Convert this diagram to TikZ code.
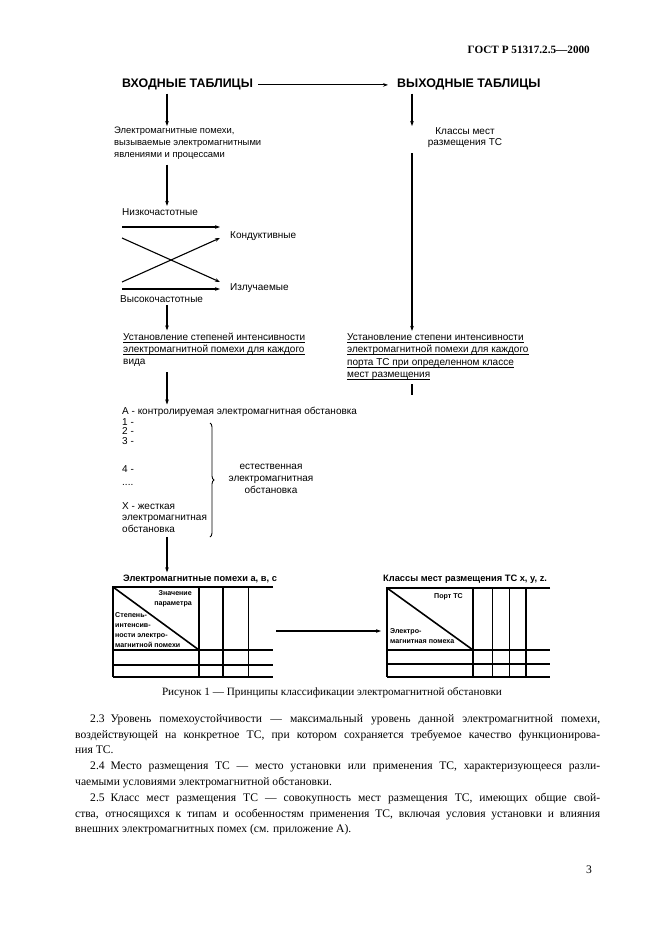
\documentclass[tikz,border=0pt]{standalone}
\usepackage{fontspec}
\setmainfont{Liberation Serif}
\setsansfont{Liberation Sans}
\usetikzlibrary{arrows.meta, decorations.pathreplacing, calc}
\tikzset{
  flow/.style={-{Stealth[length=5pt,width=3.6pt]}, line width=1.1pt},
  lbl/.style={font=\sffamily\fontsize{10}{11.8}\selectfont, inner sep=0pt, anchor=base west},
  hdr/.style={font=\sffamily\bfseries\fontsize{12.4}{14}\selectfont, inner sep=0pt, anchor=base west},
  ttl/.style={font=\sffamily\bfseries\fontsize{9.3}{10}\selectfont, inner sep=0pt, anchor=base west},
  cell/.style={font=\sffamily\bfseries\fontsize{7.1}{10.2}\selectfont, inner sep=0pt},
  uline/.style={line width=0.9pt},
  tbl/.style={line width=1.6pt},
  tblthin/.style={line width=0.9pt},
  body/.style={font=\fontsize{11.6}{13}\selectfont, inner sep=0pt, anchor=base west}
}
\begin{document}
\begin{tikzpicture}[x=1pt, y=-1pt]
\fill[white] (0,0) rectangle (661,936);
\useasboundingbox (0,0) rectangle (661,936);
\node[font=\bfseries\fontsize{11.2}{13}\selectfont, inner sep=0pt, anchor=base east] (gost) at (590,54) {ГОСТ Р 51317.2.5—2000};
% column axes
\coordinate (lx) at (167,0);
\coordinate (rx) at (412,0);
% headings
\node[hdr] (inhdr) at (122,88) {ВХОДНЫЕ ТАБЛИЦЫ};
\node[hdr] (outhdr) at (397,88) {ВЫХОДНЫЕ ТАБЛИЦЫ};
\draw[flow] (inhdr.east) ++(5,0) -- ([xshift=-9pt]outhdr.west);
% left column
\node[lbl, font=\sffamily\fontsize{9.4}{11.8}\selectfont, anchor=north west, align=left] (emi) at (114,127) {Электромагнитные помехи,\\ вызываемые электромагнитными\\ явлениями и процессами};
\draw[flow, shorten <=3pt, shorten >=1pt] (inhdr.south -| lx) -- (emi.north -| lx);
\node[lbl] (low) at (122,215) {Низкочастотные};
\draw[flow, shorten <=5pt, shorten >=2pt] (emi.south -| lx) -- (low.north -| lx);
\node[lbl, anchor=west] (cond) at (230,236) {Кондуктивные};
\node[lbl, anchor=west] (rad) at (230,288) {Излучаемые};
\node[lbl] (high) at (120,302) {Высокочастотные};
% crossing of the two kinds
\coordinate (la) at (122,227); \coordinate (lb) at (220,227);
\coordinate (xa) at (122,238); \coordinate (xb) at (220,282);
\coordinate (ya) at (122,282); \coordinate (yb) at (220,238);
\coordinate (ha) at (122,289); \coordinate (hb) at (220,289);
\foreach \a/\b in {la/lb, xa/xb, ya/yb, ha/hb}
  \draw[flow] (\a) -- (\b);
% intensity per kind
\node[lbl] (s1a) at (123,340) {Установление степеней интенсивности};
\node[lbl] (s1b) at (123,352) {электромагнитной помехи для каждого};
\node[lbl] (s1c) at (123,364) {вида};
\foreach \n in {s1a,s1b}
  \draw[uline] ([yshift=-2.6pt]\n.base west) -- ([yshift=-2.6pt]\n.base east);
\draw[flow, shorten <=3pt, shorten >=2pt] (high.south -| lx) -- (s1a.north -| lx);
% environments
\node[lbl] (stA) at (122,414) {А - контролируемая электромагнитная обстановка};
\draw[flow, shorten <=6pt, shorten >=2pt] (s1c.south -| lx) -- (stA.north -| lx);
\node[lbl] (st1) at (122,425) {1 -};
\node[lbl] (st2) at (122,434) {2 -};
\node[lbl] (st3) at (122,444) {3 -};
\node[lbl] (st4) at (122,472) {4 -};
\node[lbl] (stdots) at (122,485) {....};
\node[lbl, anchor=north west, align=left] (stX) at (122,502) {Х - жесткая\\ электромагнитная\\ обстановка};
\coordinate (bt) at (210,423);
\coordinate (bb) at (210,537);
\draw[line width=0.9pt, decorate, decoration={brace, amplitude=4pt}] (bt) -- (bb);
\node[lbl, anchor=center, align=center] (nat) at (271,479) {естественная\\ электромагнитная\\ обстановка};
% left table
\node[ttl] (ltitle) at (123,581) {Электромагнитные помехи а, в, с};
\draw[flow, shorten <=4pt, shorten >=2pt] (stX.south -| lx) -- (ltitle.north -| lx);
\draw[tbl] (273,587) -- (113,587) -- (113,677);
\foreach \y in {650,665,677}
  \draw[tbl] (113,\y) -- (273,\y);
\foreach \x in {199,223}
  \draw[tbl] (\x,587) -- (\x,677);
\draw[tblthin] (248,587) -- (248,677);
\draw[tbl] (113,587) -- (199,650);
\node[cell, anchor=north east, align=right] at (192,590) {Значение\\ параметра};
\node[cell, anchor=north west, align=left] at (115,612) {Степень-\\ интенсив-\\ ности электро-\\ магнитной помехи};
\coordinate (tl) at (276,631);
\coordinate (tr) at (381,631);
\draw[flow] (tl) -- (tr);
% right column
\node[lbl, anchor=north, align=center] (cls) at (465,127) {Классы мест\\ размещения ТС};
\draw[flow, shorten <=3pt, shorten >=1pt] (outhdr.south -| rx) -- (cls.north -| rx);
\node[lbl] (s2a) at (347,340) {Установление степени интенсивности};
\node[lbl] (s2b) at (347,352) {электромагнитной помехи для каждого};
\node[lbl] (s2c) at (347,365) {порта ТС при определенном классе};
\node[lbl] (s2d) at (347,377) {мест размещения};
\foreach \n in {s2a,s2b,s2c,s2d}
  \draw[uline] ([yshift=-2.6pt]\n.base west) -- ([yshift=-2.6pt]\n.base east);
\draw[flow, shorten <=5pt, shorten >=2pt] (cls.south -| rx) -- (s2a.north -| rx);
\coordinate (stub) at ($(s2d.south -| rx)+(0,16)$);
\draw[line width=1.1pt, shorten <=5pt] (s2d.south -| rx) -- (stub);
% right table
\node[ttl] (rtitle) at (383,581) {Классы мест размещения ТС x, y, z.};
\draw[tbl] (550,588) -- (387,588) -- (387,677);
\foreach \y in {650,664,677}
  \draw[tbl] (387,\y) -- (550,\y);
\foreach \x in {473,526}
  \draw[tbl] (\x,588) -- (\x,677);
\foreach \x in {492,509}
  \draw[tblthin] (\x,588) -- (\x,677);
\draw[tbl] (387,588) -- (473,650);
\node[cell, anchor=north east] at (463,593) {Порт ТС};
\node[cell, anchor=north west, align=left] at (390,628) {Электро-\\ магнитная помеха};
% caption and text
\node[font=\fontsize{11.2}{13}\selectfont, inner sep=0pt, anchor=base] (cap) at (332,695) {Рисунок 1 — Принципы классификации электромагнитной обстановки};
\node[body] (p1) at (90,722) {\makebox[510pt][s]{2.3\enspace Уровень помехоустойчивости — максимальный уровень данной электромагнитной помехи,}};
\node[body] (p2) at (75,738) {\makebox[525pt][s]{воздействующей на конкретное ТС, при котором сохраняется требуемое качество функционирова-}};
\node[body] (p3) at (75,753) {ния ТС.};
\node[body] (p4) at (90,769) {\makebox[510pt][s]{2.4\enspace Место размещения ТС — место установки или применения ТС, характеризующееся разли-}};
\node[body] (p5) at (75,785) {чаемыми условиями электромагнитной обстановки.};
\node[body] (p6) at (90,801) {\makebox[510pt][s]{2.5\enspace Класс мест размещения ТС — совокупность мест размещения ТС, имеющих общие свой-}};
\node[body] (p7) at (75,817) {\makebox[525pt][s]{ства, относящихся к типам и особенностям применения ТС, включая условия установки и влияния}};
\node[body] (p8) at (75,832) {внешних электромагнитных помех (см. приложение А).};
\node[body, anchor=base east] (page) at (592,873) {3};
\end{tikzpicture}
\end{document}
